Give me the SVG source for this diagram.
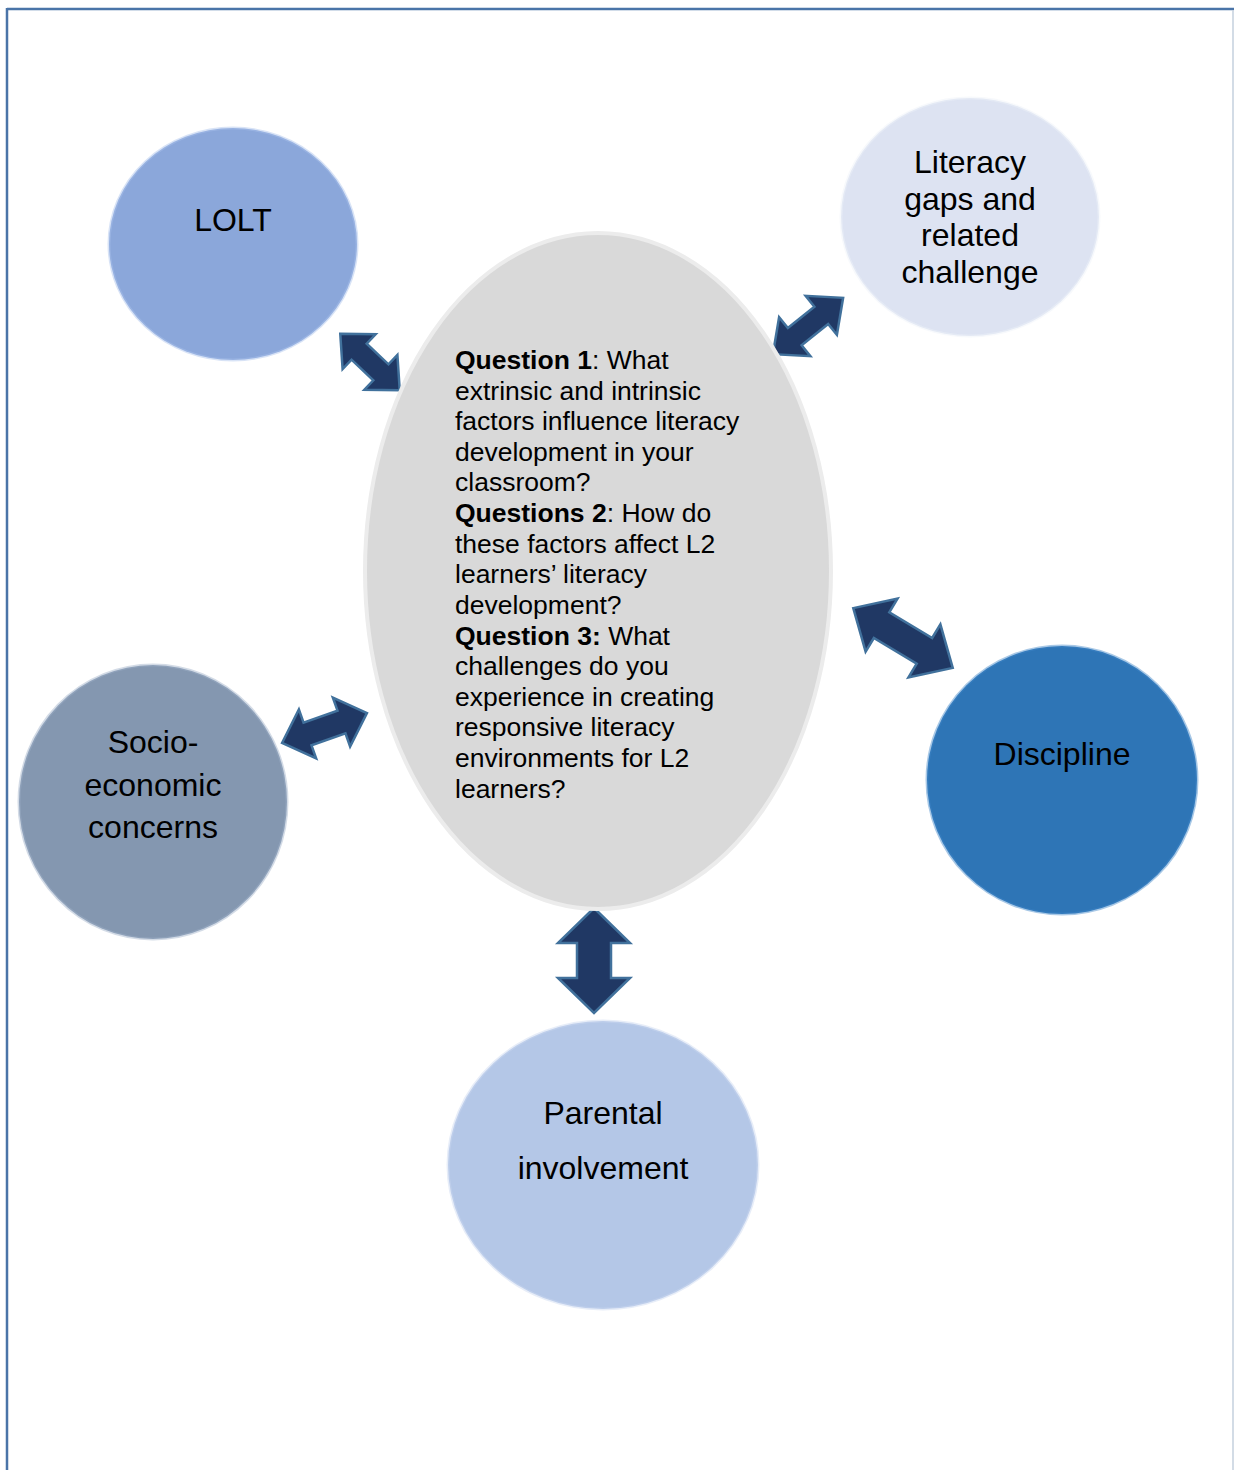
<svg xmlns="http://www.w3.org/2000/svg" width="1234" height="1470" viewBox="0 0 1234 1470">
<style>
.lbl{font-family:"Liberation Sans",Arial,sans-serif;font-size:32px;fill:#000;text-anchor:middle}
.q{font-family:"Liberation Sans",Arial,sans-serif;font-size:26.5px;fill:#000}
.b{font-weight:bold}
.arr{fill:#203864;stroke:#41719c;stroke-width:2.5;stroke-linejoin:miter}
.node{stroke-width:3;stroke-opacity:0.45}
</style>
<rect width="1234" height="1470" fill="#fff"/>
<g id="frame">
<line x1="7" y1="9" x2="1234" y2="9" stroke="#4a74a8" stroke-width="2.5"/>
<line x1="7" y1="8" x2="7" y2="1470" stroke="#4a74a8" stroke-width="2.5"/>
<line x1="1233" y1="10" x2="1233" y2="1470" stroke="#c5d0de" stroke-width="1.5"/>
</g>
<g id="connectors">
<polygon class="arr" transform="translate(370,362) rotate(43.5)" points="-41,0 -15,-24 -15,-11 15,-11 15,-24 41,0 15,24 15,11 -15,11 -15,24"/>
<polygon class="arr" transform="translate(808,326) rotate(-38.7)" points="-45,0 -17,-25 -17,-11 17,-11 17,-25 45,0 17,25 17,11 -17,11 -17,25"/>
<polygon class="arr" transform="translate(903,638) rotate(31)" points="-58,0 -25,-31 -25,-15 25,-15 25,-31 58,0 25,31 25,15 -25,15 -25,31"/>
<polygon class="arr" transform="translate(324.5,728) rotate(-19.4)" points="-45,0 -18,-26 -18,-12 18,-12 18,-26 45,0 18,26 18,12 -18,12 -18,26"/>
<polygon class="arr" transform="translate(594,960.5) rotate(90)" points="-52.5,0 -17.5,-36 -17.5,-17 17.5,-17 17.5,-36 52.5,0 17.5,36 17.5,17 -17.5,17 -17.5,36"/>
</g>
<g id="center">
<ellipse cx="598" cy="571" rx="233" ry="338" fill="#d9d9d9" stroke="#ececec" stroke-width="4"/>
<text class="q"><tspan x="455" y="369"><tspan class="b">Question 1</tspan>: What</tspan><tspan x="455" y="400">extrinsic and intrinsic</tspan><tspan x="455" y="430">factors influence literacy</tspan><tspan x="455" y="461">development in your</tspan><tspan x="455" y="491">classroom?</tspan><tspan x="455" y="522"><tspan class="b">Questions 2</tspan>: How do</tspan><tspan x="455" y="553">these factors affect L2</tspan><tspan x="455" y="583">learners’ literacy</tspan><tspan x="455" y="614">development?</tspan><tspan x="455" y="645"><tspan class="b">Question 3:</tspan> What</tspan><tspan x="455" y="675">challenges do you</tspan><tspan x="455" y="706">experience in creating</tspan><tspan x="455" y="736">responsive literacy</tspan><tspan x="455" y="767">environments for L2</tspan><tspan x="455" y="798">learners?</tspan></text>
</g>
<g id="lolt">
<ellipse class="node" cx="233" cy="244" rx="124" ry="116" fill="#8ba7da" stroke="#a9c0ec"/>
<text class="lbl" x="233" y="231">LOLT</text>
</g>
<g id="literacy">
<ellipse class="node" cx="970" cy="217" rx="129" ry="119" fill="#dde3f2" stroke="#eef1f9"/>
<text class="lbl"><tspan x="970" y="173">Literacy</tspan><tspan x="970" y="209.5">gaps and</tspan><tspan x="970" y="246">related</tspan><tspan x="970" y="282.5">challenge</tspan></text>
</g>
<g id="discipline">
<ellipse class="node" cx="1062" cy="780" rx="135" ry="134" fill="#2e75b6" stroke="#3f86c7"/>
<text class="lbl" x="1062" y="765">Discipline</text>
</g>
<g id="socio">
<ellipse class="node" cx="153" cy="802" rx="134" ry="137" fill="#8497b0" stroke="#9eb0c8"/>
<text class="lbl"><tspan x="153" y="753">Socio-</tspan><tspan x="153" y="796">economic</tspan><tspan x="153" y="838">concerns</tspan></text>
</g>
<g id="parental">
<ellipse class="node" cx="603" cy="1165" rx="155" ry="144" fill="#b4c7e7" stroke="#c9d7ef"/>
<text class="lbl"><tspan x="603" y="1124">Parental</tspan><tspan x="603" y="1179">involvement</tspan></text>
</g>
</svg>
